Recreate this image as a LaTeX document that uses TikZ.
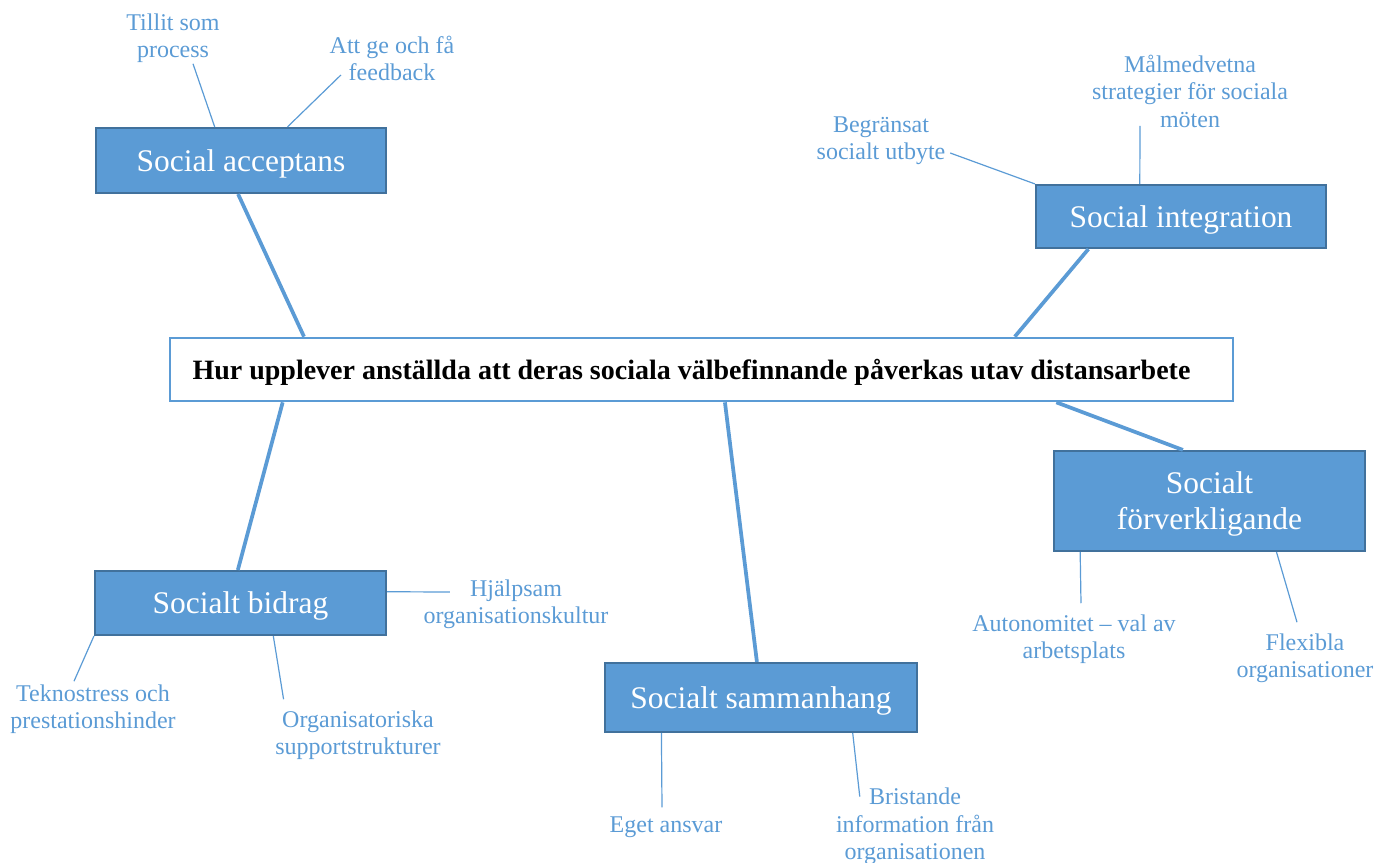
\documentclass[tikz,border=0pt]{standalone}
\usepackage{fontspec}
\setmainfont{Liberation Serif}
\usetikzlibrary{calc}
\definecolor{boxblue}{HTML}{5B9BD5}
\definecolor{boxedge}{HTML}{41719C}

\begin{document}
\begin{tikzpicture}[x=0.75pt, y=-0.75pt,
  theme/.style={draw=boxedge, line width=1.6pt, fill=boxblue, text=white, align=center, font=\fontsize{23.6}{27}\selectfont, inner sep=0pt, text depth=0pt},
  hub/.style={draw=boxblue, line width=2pt, fill=white, font=\fontsize{21}{25}\bfseries\selectfont, inner sep=0pt, text depth=0pt},
  lbl/.style={text=boxblue, align=center, font=\fontsize{18}{20.5}\selectfont, inner sep=0pt, text depth=0pt},
  branch/.style={draw=boxblue, line width=2.8pt},
  twig/.style={draw=boxblue, line width=0.9pt}]
\useasboundingbox (0,0) rectangle (1390,863);

\node[hub, minimum width=797.25pt, minimum height=47.25pt] (question) at (701.5,369.5) {Hur upplever anställda att deras sociala välbefinnande påverkas utav distansarbete\hspace*{15pt}};

\node[theme, minimum width=217.5pt, minimum height=48.75pt] (acceptans) at (241,160.5) {Social acceptans};
\node[theme, minimum width=217.5pt, minimum height=47.25pt] (integration) at (1181,216.5) {Social integration};
\node[theme, minimum width=233.25pt, minimum height=75pt] (forverk) at (1209.5,501) {Socialt\\förverkligande};
\node[theme, minimum width=218.25pt, minimum height=48pt] (bidrag) at (240.5,603) {Socialt bidrag};
\node[theme, minimum width=234pt, minimum height=51.75pt] (sammanhang) at (761,697.5) {Socialt sammanhang};

\node[lbl] (tillit) at (173,36) {Tillit som\\process};
\node[lbl] (feedback) at (392,58) {Att ge och få\\feedback};
\node[lbl] (begransat) at (881,138) {Begränsat\\socialt utbyte};
\node[lbl] (malmedvetna) at (1190,91) {Målmedvetna\\strategier för sociala\\möten};
\node[lbl] (hjalpsam) at (516,602) {Hjälpsam\\organisationskultur};
\node[lbl] (teknostress) at (93,707) {Teknostress och\\prestationshinder};
\node[lbl] (support) at (358,733) {Organisatoriska\\supportstrukturer};
\node[lbl] (ansvar) at (666,825) {Eget ansvar};
\node[lbl] (bristande) at (915,824) {Bristande\\information från\\organisationen};
\node[lbl] (autonomi) at (1074,637) {Autonomitet -- val av\\arbetsplats};
\node[lbl] (flexibla) at (1305,656) {Flexibla\\organisationer};

% main branches
\draw[branch] ($(acceptans.south west)!.49!(acceptans.south east)$) -- ($(question.north west)!.127!(question.north east)$);
\draw[branch] ($(integration.south west)!.183!(integration.south east)$) -- ($(question.north west)!.794!(question.north east)$);
\draw[branch] ($(question.south west)!.833!(question.south east)$) -- ($(forverk.north west)!.415!(forverk.north east)$);
\draw[branch] ($(question.south west)!.107!(question.south east)$) -- ($(bidrag.north west)!.491!(bidrag.north east)$);
\draw[branch] ($(question.south west)!.522!(question.south east)$) -- ($(sammanhang.north west)!.487!(sammanhang.north east)$);

% sub themes
\draw[twig] ($(acceptans.north west)!.41!(acceptans.north east)$) -- ([shift={(20,5.5)}]tillit.south);
\draw[twig] ($(acceptans.north west)!.659!(acceptans.north east)$) -- ([shift={(11.5,17)}]feedback.west);
\draw[twig] (integration.north west) -- ([shift={(4.6,15)}]begransat.east);
\draw[twig] ($(integration.north west)!.359!(integration.north east)$) -- ([shift={(-50,-1.5)}]malmedvetna.south);
\draw[twig] ($(bidrag.north east)!.33!(bidrag.south east)$) -- ([shift={(26.5,-10)}]hjalpsam.west);
\draw[twig] (bidrag.south west) -- ([shift={(-19,-3.5)}]teknostress.north);
\draw[twig] ($(bidrag.south west)!.612!(bidrag.south east)$) -- ([shift={(8.5,-11.5)}]support.north west);
\draw[twig] ($(sammanhang.south west)!.183!(sammanhang.south east)$) -- ([shift={(-4,-9.5)}]ansvar.north);
\draw[twig] ($(sammanhang.south west)!.792!(sammanhang.south east)$) -- ([shift={(24,8.5)}]bristande.north west);
\draw[twig] ($(forverk.south west)!.087!(forverk.south east)$) -- ([shift={(7,-11.5)}]autonomi.north);
\draw[twig] ($(forverk.south west)!.714!(forverk.south east)$) -- ([shift={(-8,-11.5)}]flexibla.north);
\end{tikzpicture}
\end{document}
